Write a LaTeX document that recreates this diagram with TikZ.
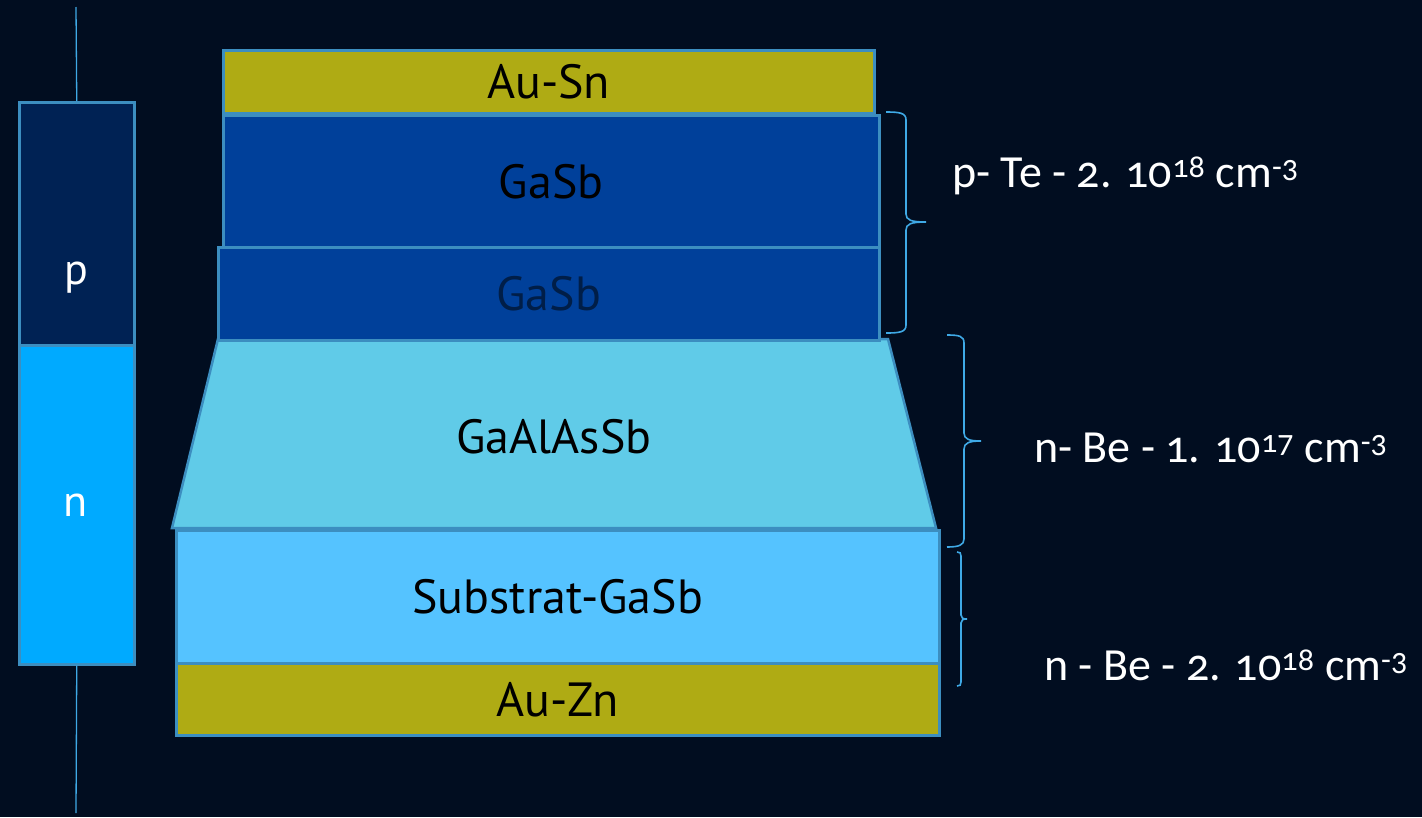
\documentclass[tikz,border=0pt]{standalone}
\usepackage{fontspec}
\setmainfont{PT Sans}
\newfontfamily\notefont[Numbers=OldStyle]{Carlito}
\definecolor{bg}{RGB}{1,13,32}
\definecolor{edge}{RGB}{60,142,192}
\definecolor{gold}{RGB}{175,171,20}
\definecolor{gasb}{RGB}{0,64,154}
\definecolor{pcol}{RGB}{0,34,84}
\definecolor{ncol}{RGB}{0,170,255}
\definecolor{trapcol}{RGB}{96,203,232}
\definecolor{subcol}{RGB}{85,195,255}
\definecolor{bracecol}{RGB}{63,169,230}
\definecolor{darktext}{RGB}{0,30,72}
\begin{document}
\begin{tikzpicture}[x=1pt,y=-1pt,
  layer/.style={draw=edge, line width=2.5pt, inner sep=0pt, anchor=north west,
    font=\fontsize{48}{48}\selectfont, text=black},
  bar/.style={draw=edge, line width=2.5pt, inner sep=0pt, anchor=north west,
    minimum width=115pt},
  barlbl/.style={font=\fontsize{44}{44}\selectfont, text=white, inner sep=0pt},
  lbl/.style={font=\fontsize{48}{48}\selectfont, inner sep=0pt},
  note/.style={font=\notefont\fontsize{46}{46}\selectfont, text=white, inner sep=0pt, anchor=base west},
  wire/.style={draw=bracecol, line width=1.3pt},
  brace/.style={draw=bracecol, line width=1.6pt}]
\fill[bg] (0,0) rectangle (1422,817);
\useasboundingbox (0,0) rectangle (1422,817);

% left p/n bar
\node[bar, fill=pcol, minimum height=243pt] (pbar) at (18,101) {};
\node[bar, fill=ncol, minimum height=319pt] (nbar) at (18,344) {};
\node[barlbl] (plbl) at (76,278) {p};
\node[barlbl] (nlbl) at (76,505) {n};
\coordinate (wtop) at (76,7);
\coordinate (wbot) at (76,813);
\draw[wire] (pbar.north) -- (wtop);
\draw[wire] (nbar.south) -- (wbot);

% trapezoid GaAlAsSb
\filldraw[fill=trapcol, draw=edge, line width=2.5pt, line join=miter]
  (218,339) -- (888,339) -- (936,528) -- (172,528) -- cycle;
\node[lbl] (gaalassb) at (554,437) {GaAlAsSb};

% stack
\node[layer, fill=gold, minimum width=651pt, minimum height=63pt] (ausn) at (222,49) {Au-Sn};
\node[layer, fill=gasb, minimum width=656pt, minimum height=132pt] (gasb1) at (222,114) {GaSb};
\node[layer, fill=gasb, minimum width=661pt, minimum height=93pt, text=darktext] (gasb2) at (217,246) {GaSb};
\node[layer, fill=subcol, minimum width=763pt, minimum height=133pt] (sub) at (175,529) {Substrat-GaSb};
\node[layer, fill=gold, minimum width=763pt, minimum height=72pt] (auzn) at (175,662) {Au-Zn};

% braces
\draw[brace] (886,112) .. controls (900,112) and (906,113) .. (906,120) -- (906,214)
  .. controls (906,220) and (911,222) .. (926,222)
  .. controls (911,222) and (906,224) .. (906,230) -- (906,325)
  .. controls (906,332) and (900,333) .. (886,333);
\draw[brace] (947,335) .. controls (959,335) and (964,336) .. (964,343) -- (964,433)
  .. controls (964,439) and (969,441) .. (981,441)
  .. controls (969,441) and (964,443) .. (964,449) -- (964,539)
  .. controls (964,545) and (959,547) .. (947,547);
\draw[brace] (957,552) .. controls (960,552) and (961,553) .. (961,556) -- (961,615)
  .. controls (961,618) and (963,619) .. (967,619)
  .. controls (963,619) and (961,620) .. (961,623) -- (961,682)
  .. controls (961,685) and (960,686) .. (957,686);

% doping notes
\node[note] (n1) at (952,187) {p- Te - 2. 10\textsuperscript{18} cm\textsuperscript{-3}};
\node[note] (n2) at (1034,462) {n- Be - 1. 10\textsuperscript{17} cm\textsuperscript{-3}};
\node[note] (n3) at (1044,680) {n - Be - 2. 10\textsuperscript{18} cm\textsuperscript{-3}};
\end{tikzpicture}
\end{document}
